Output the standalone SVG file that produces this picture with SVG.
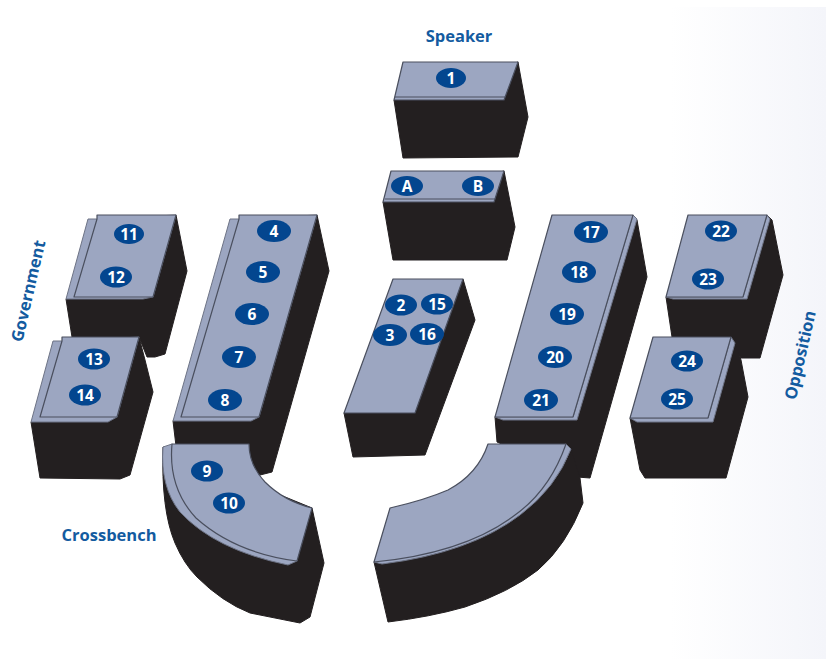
<svg xmlns="http://www.w3.org/2000/svg" width="826" height="659" viewBox="0 0 826 659">
<style>
.k{fill:#231f20;stroke:#231f20;stroke-width:1;stroke-linejoin:round}
.t{fill:#9ca6c1;stroke:#4a4f5e;stroke-width:1.2;stroke-linejoin:round}
.l{fill:#9ca6c1;stroke:#6d7385;stroke-width:1;stroke-linejoin:round}
.d{fill:none;stroke:#4a4f5e;stroke-width:1}
.o{fill:#03468f}
.n{font-family:"Open Sans","Noto Sans",sans-serif;font-size:15.500px;font-weight:700;fill:#fff;text-anchor:middle}
.c{font-family:"Open Sans","Noto Sans",sans-serif;font-size:16.500px;font-weight:700;fill:#135ba0;text-anchor:middle}
</style>
<defs><linearGradient id="bg" x1="0" x2="1" y1="0" y2="0"><stop offset="0" stop-color="#fff"/><stop offset="1" stop-color="#f4f5fa"/></linearGradient></defs>
<rect width="826" height="659" fill="#fff"/>
<rect x="670" y="7" width="156" height="652" fill="url(#bg)"/>
<g id="connectors"/>
<g id="speaker-block">
<path class="k" d="M394 100L403 158L518 157L528 117L518 62Z"/>
<path class="t" d="M403 62H518L504 100H394Z"/>
<path class="d" d="M395 97H505"/>
<ellipse class="o" cx="451" cy="78" rx="15" ry="10"/><text class="n" x="451" y="83.500">1</text>
</g>
<g id="block-ab">
<path class="k" d="M383 202L393 260H507L515 227L504 171Z"/>
<path class="t" d="M391 171H504L494 202H383Z"/>
<path class="d" d="M385 199H495"/>
<ellipse class="o" cx="407" cy="186" rx="16" ry="10"/><text class="n" x="407" y="191.500">A</text>
<ellipse class="o" cx="478" cy="186" rx="16" ry="10"/><text class="n" x="478" y="191.500">B</text>
</g>
<g id="block-11-12">
<path class="k" d="M66 299L72 337L139 337L147 357L155 357L165 354L187 271L176 215Z"/>
<path class="l" d="M88 219H97L176 215L153 297L143 299H66Z"/>
<path class="t" d="M97 215H176L153 297H74L97 219Z"/>
<ellipse class="o" cx="129" cy="234" rx="15" ry="10"/><text class="n" x="129" y="239.500">11</text>
<ellipse class="o" cx="116" cy="277" rx="16" ry="10.500"/><text class="n" x="116" y="282.500">12</text>
</g>
<g id="block-13-14">
<path class="k" d="M31 422L40 478L120 479L130 475L153 392L145 360L139 337Z"/>
<path class="l" d="M53 341H62L139 337L117 417L108 422H31Z"/>
<path class="t" d="M62 337H139L117 417H40L62 341Z"/>
<ellipse class="o" cx="94" cy="359" rx="16" ry="10.500"/><text class="n" x="94" y="364.500">13</text>
<ellipse class="o" cx="85" cy="395" rx="16" ry="10.500"/><text class="n" x="85" y="400.500">14</text>
</g>
<g id="block-4-8">
<path class="k" d="M173 421L176 446L260 475L272 472L329 271L317 215Z"/>
<path class="l" d="M230 219H239L317 215L259 417L251 421H173Z"/>
<path class="t" d="M239 215H317L259 417H181L239 219Z"/>
<ellipse class="o" cx="274" cy="231" rx="17" ry="11"/><text class="n" x="274" y="236.500">4</text>
<ellipse class="o" cx="263" cy="272" rx="17" ry="11"/><text class="n" x="263" y="277.500">5</text>
<ellipse class="o" cx="252" cy="314" rx="17" ry="11"/><text class="n" x="252" y="319.500">6</text>
<ellipse class="o" cx="239" cy="357" rx="17" ry="11"/><text class="n" x="239" y="362.500">7</text>
<ellipse class="o" cx="225" cy="400" rx="17" ry="11"/><text class="n" x="225" y="405.500">8</text>
</g>
<g id="block-crossbench">
<path class="k" d="M163 447Q161 510 175 543Q184 564 197 577Q222 602 250 613L300 623L310 617L324 563L312 508Z"/>
<path class="l" d="M163 447L172 444L300 520L297 561L288 565Q215 550 180 512Q160 487 163 447Z"/>
<path class="t" d="M172 444H249Q249 465 265 482Q284 501 312 508L297 561Q235 553 196 518Q168 488 172 444Z"/>
<ellipse class="o" cx="207" cy="471" rx="16" ry="10.500"/><text class="n" x="207" y="476.500">9</text>
<ellipse class="o" cx="229" cy="503" rx="16" ry="10.500"/><text class="n" x="229" y="508.500">10</text>
</g>
<g id="block-central">
<path class="k" d="M344 413L353 457L425 455L475 320L463 279Z"/>
<path class="t" d="M393 279H463L415 413H344Z"/>
<ellipse class="o" cx="401" cy="305" rx="16" ry="10.500"/><text class="n" x="401" y="310.500">2</text>
<ellipse class="o" cx="437" cy="304" rx="16" ry="10.500"/><text class="n" x="437" y="309.500">15</text>
<ellipse class="o" cx="390" cy="335" rx="17" ry="11"/><text class="n" x="390" y="340.500">3</text>
<ellipse class="o" cx="427" cy="334" rx="17" ry="11"/><text class="n" x="427" y="339.500">16</text>
</g>
<g id="block-17-21">
<path class="k" d="M495 417L497 442L577 477L590 478L647 277L637 220L633 215Z"/>
<path class="l" d="M503 420H577L637 219L633 215L573 417H495Z"/>
<path class="t" d="M552 215H633L573 417H495Z"/>
<ellipse class="o" cx="591" cy="232" rx="17" ry="11"/><text class="n" x="591" y="237.500">17</text>
<ellipse class="o" cx="579" cy="272" rx="17" ry="11"/><text class="n" x="579" y="277.500">18</text>
<ellipse class="o" cx="567" cy="314" rx="17" ry="11"/><text class="n" x="567" y="319.500">19</text>
<ellipse class="o" cx="555" cy="357" rx="17" ry="11"/><text class="n" x="555" y="362.500">20</text>
<ellipse class="o" cx="541" cy="400" rx="17" ry="11"/><text class="n" x="541" y="405.500">21</text>
</g>
<g id="block-22-23">
<path class="k" d="M666 297L672 337H725L741 358H760L783 275L772 220L767 215Z"/>
<path class="l" d="M673 299H747L770 219L767 215L743 297H666Z"/>
<path class="t" d="M688 215H767L743 297H666Z"/>
<ellipse class="o" cx="721" cy="231" rx="16" ry="10.500"/><text class="n" x="721" y="236.500">22</text>
<ellipse class="o" cx="708" cy="279" rx="16" ry="10.500"/><text class="n" x="708" y="284.500">23</text>
</g>
<g id="block-24-25">
<path class="k" d="M630 418L640 470L645 478H726L748 397L741 360L735 343L731 337Z"/>
<path class="l" d="M637 422H713L735 343L731 337L708 418H630Z"/>
<path class="t" d="M653 337H731L708 418H630Z"/>
<ellipse class="o" cx="687" cy="361" rx="16" ry="10.500"/><text class="n" x="687" y="366.500">24</text>
<ellipse class="o" cx="677" cy="399" rx="16" ry="10.500"/><text class="n" x="677" y="404.500">25</text>
</g>
<g id="block-opposition-arc">
<path class="k" d="M374 562L388 622Q430 617 465 607Q510 592 538 570Q566 546 583 503L580 478L571 449Z"/>
<path class="l" d="M382 564Q470 553 520 515Q556 488 571 449L566 444L400 520L374 562Z"/>
<path class="t" d="M488 444H566Q550 490 515 515Q465 553 374 562L390 508Q425 500 448 490Q478 474 488 444Z"/>
</g>
<g id="labels">
<text class="c" x="459" y="42">Speaker</text>
<text class="c" x="109" y="541">Crossbench</text>
<text class="c" transform="translate(28 291) rotate(-77)" y="6">Government</text>
<text class="c" transform="translate(800 355) rotate(-77)" y="6">Opposition</text>
</g>
</svg>
